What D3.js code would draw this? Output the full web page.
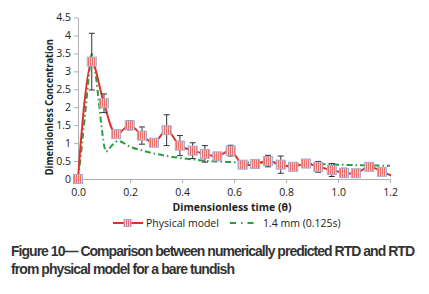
<!DOCTYPE html>
<html>
<head>
<meta charset="utf-8">
<script src="https://cdn.jsdelivr.net/npm/d3@7"></script>
<style>
  body { margin: 0; background: #fff; }
  svg { display: block; }
</style>
</head>
<body>
<div id="chart"></div>
<script>
// physical model (measured) RTD
const theta = [0, 0.053, 0.1, 0.147, 0.199, 0.246, 0.292, 0.341, 0.392, 0.441, 0.488, 0.536, 0.587,
  0.633, 0.681, 0.731, 0.78, 0.828, 0.877, 0.924, 0.976, 1.023, 1.069, 1.12, 1.169, 1.218];
const concentration = [0, 3.27, 2.11, 1.25, 1.5, 1.21, 1.01, 1.36, 0.93, 0.79, 0.7, 0.63, 0.79,
  0.4, 0.42, 0.5, 0.4, 0.34, 0.43, 0.34, 0.25, 0.17, 0.16, 0.34, 0.2, 0.06];
const errorBar = [0, 0.79, 0.26, 0.04, 0.13, 0.24, 0, 0.43, 0.28, 0.22, 0.23, 0, 0.15,
  0.1, 0, 0.16, 0.24, 0, 0, 0.15, 0.18, 0.13, 0, 0, 0, 0];

// numerical prediction, 1.4 mm (0.125s)
const simTheta = [0, 0.01, 0.02, 0.03, 0.04, 0.053, 0.06, 0.07, 0.08, 0.09, 0.1, 0.108, 0.12, 0.135,
  0.155, 0.2, 0.25, 0.3, 0.35, 0.4, 0.45, 0.5, 0.6, 0.7, 0.8, 0.9, 1.0, 1.1, 1.2];
const simConc = [0, 0.6, 1.3, 2.0, 2.75, 3.48, 3.3, 2.8, 2.15, 1.5, 0.95, 0.76, 0.85, 0.97,
  1.06, 0.9, 0.79, 0.7, 0.63, 0.58, 0.54, 0.5, 0.47, 0.45, 0.43, 0.42, 0.4, 0.38, 0.37];

const xTicks = [0, 0.2, 0.4, 0.6, 0.8, 1.0, 1.2];
const yTicks = [0, 0.5, 1, 1.5, 2, 2.5, 3, 3.5, 4, 4.5];

const seriesNames = ["Physical model", "1.4 mm (0.125s)"];
const captionLines = [
  "Figure 10\u2014 Comparison between numerically predicted RTD and RTD",
  "from physical model for a bare tundish"
];

const W = 429, H = 294;
const plotL = 78, plotR = 390, plotT = 17.5, plotB = 179;
const red = "#e0322c", green = "#2a9d45", axisGrey = "#b0b0b0";
const chartFont = "'Open Sans', 'Liberation Sans', Arial, sans-serif";

const svg = d3.select("#chart").append("svg")
  .attr("width", W).attr("height", H);

const defs = svg.append("defs");
const pat = defs.append("pattern")
  .attr("id", "stripes")
  .attr("patternUnits", "userSpaceOnUse")
  .attr("width", 2).attr("height", 2);
pat.append("rect").attr("width", 2).attr("height", 2).attr("fill", "#f7d0cc");
pat.append("rect").attr("width", 1).attr("height", 2).attr("fill", "#e8716b");

defs.append("clipPath").attr("id", "plotClip")
  .append("rect").attr("x", plotL - 6).attr("y", 0).attr("width", plotR - plotL + 7).attr("height", plotB + 6);

const x = d3.scaleLinear().domain([0, 1.2]).range([plotL, plotR]);
const y = d3.scaleLinear().domain([0, 4.5]).range([plotB, plotT]);

// axes
const xAxis = svg.append("g")
  .attr("transform", `translate(0,${plotB})`)
  .call(d3.axisBottom(x).tickValues(xTicks).tickFormat(d3.format(".1f")).tickSize(4).tickSizeOuter(0));
const yAxis = svg.append("g")
  .attr("transform", `translate(${plotL},0)`)
  .call(d3.axisLeft(y).tickValues(yTicks).tickFormat(d => d).tickSize(4).tickSizeOuter(0));

[xAxis, yAxis].forEach(a => {
  a.select(".domain").attr("stroke", axisGrey);
  a.selectAll(".tick line").attr("stroke", axisGrey);
  a.selectAll("text")
    .attr("fill", "#222")
    .style("font-family", chartFont)
    .style("font-size", "10.5px");
});
xAxis.selectAll("text").attr("dy", "0.95em");
yAxis.selectAll("text").attr("x", -7);

svg.append("text")
  .attr("transform", `translate(53,${(plotT + plotB) / 2 + 9}) rotate(-90)`)
  .attr("text-anchor", "middle")
  .attr("textLength", 136).attr("lengthAdjust", "spacingAndGlyphs")
  .style("font-family", chartFont).style("font-size", "11px").style("font-weight", "bold")
  .attr("fill", "#222")
  .text("Dimensionless Concentration");

svg.append("text")
  .attr("x", 232).attr("y", 211)
  .attr("text-anchor", "middle")
  .attr("textLength", 119).attr("lengthAdjust", "spacingAndGlyphs")
  .style("font-family", chartFont).style("font-size", "11px").style("font-weight", "bold")
  .attr("fill", "#222")
  .text("Dimensionless time (\u03b8)");

const plot = svg.append("g").attr("clip-path", "url(#plotClip)");

// simulation line
plot.append("path")
  .datum(simTheta.map((t, i) => [t, simConc[i]]))
  .attr("fill", "none")
  .attr("stroke", green)
  .attr("stroke-width", 2)
  .attr("stroke-dasharray", "6,3,1.5,3")
  .attr("d", d3.line().x(d => x(d[0])).y(d => y(d[1])).curve(d3.curveMonotoneX));

const pts = theta.map((t, i) => ({ t, c: concentration[i], e: errorBar[i] }));

// physical model line
plot.append("path")
  .datum(pts)
  .attr("fill", "none")
  .attr("stroke", red)
  .attr("stroke-width", 2)
  .attr("d", d3.line().x(d => x(d.t)).y(d => y(d.c)).curve(d3.curveCatmullRom.alpha(0.5)));

// error bars
const eb = plot.append("g").attr("stroke", "#333").attr("stroke-width", 1);
pts.filter(d => d.e > 0).forEach(d => {
  const cx = x(d.t);
  eb.append("line").attr("x1", cx).attr("x2", cx).attr("y1", y(d.c + d.e)).attr("y2", y(d.c - d.e));
  eb.append("line").attr("x1", cx - 3).attr("x2", cx + 3).attr("y1", y(d.c + d.e)).attr("y2", y(d.c + d.e));
  eb.append("line").attr("x1", cx - 3).attr("x2", cx + 3).attr("y1", y(d.c - d.e)).attr("y2", y(d.c - d.e));
});

// markers
plot.selectAll("rect.marker")
  .data(pts.filter(d => d.t <= 1.2))
  .enter().append("rect")
  .attr("class", "marker")
  .attr("x", d => x(d.t) - 4.5)
  .attr("y", d => y(d.c) - 4.5)
  .attr("width", 9).attr("height", 9)
  .attr("fill", "url(#stripes)")
  .attr("stroke", "#a3a9d6")
  .attr("stroke-width", 1);

// legend
const lg = svg.append("g").attr("transform", "translate(0,223)");
lg.append("line").attr("x1", 113).attr("x2", 143).attr("y1", 0).attr("y2", 0)
  .attr("stroke", red).attr("stroke-width", 2);
lg.append("rect").attr("x", 124).attr("y", -3.5).attr("width", 7).attr("height", 7)
  .attr("fill", "url(#stripes)").attr("stroke", "#a3a9d6");
lg.append("text").attr("x", 146).attr("y", 3.8)
  .style("font-family", chartFont).style("font-size", "10.5px").attr("fill", "#222")
  .text(seriesNames[0]);
lg.append("line").attr("x1", 230).attr("x2", 256).attr("y1", 0).attr("y2", 0)
  .attr("stroke", green).attr("stroke-width", 2).attr("stroke-dasharray", "6,5,1.5,5");
lg.append("text").attr("x", 263).attr("y", 3.8)
  .style("font-family", chartFont).style("font-size", "10.5px").attr("fill", "#222")
  .text(seriesNames[1]);

// caption: size the font so each line spans its width in the reference
const capFont = "'Liberation Sans Narrow', 'Arial Narrow', 'Liberation Sans', Arial, sans-serif";
[[captionLines[0], 256, 404], [captionLines[1], 274, 224]].forEach(([txt, yy, w]) => {
  const t = svg.append("text").attr("x", 11).attr("y", yy)
    .style("font-family", capFont).style("font-size", "14px").style("font-weight", "bold")
    .attr("fill", "#333").text(txt);
  const len = t.node().getComputedTextLength();
  t.style("letter-spacing", ((w - len) / Math.max(1, txt.length - 1)) + "px");
});
</script>
</body>
</html>
